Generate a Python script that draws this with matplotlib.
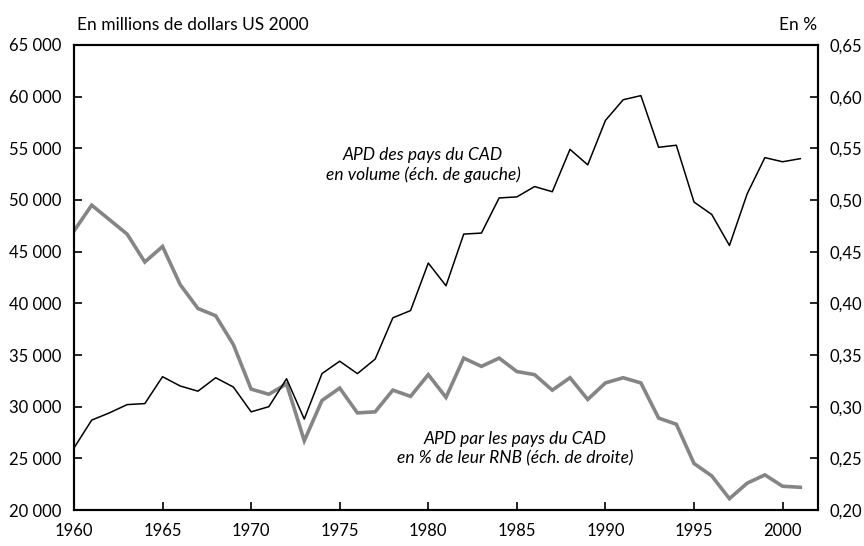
import matplotlib
matplotlib.use("Agg")
import matplotlib.pyplot as plt
from matplotlib.ticker import FuncFormatter

plt.rcParams['font.family'] = ['Lato', 'DejaVu Sans']

years = list(range(1960, 2002))

# APD des pays du CAD en volume, millions USD 2000 (left axis)
volume = [26000, 28700, 29400, 30200, 30300, 32900, 32000, 31500, 32800, 31900,
          29500, 30000, 32700, 28800, 33200, 34400, 33200, 34600, 38600, 39300,
          43900, 41700, 46700, 46800, 50200, 50300, 51300, 50800, 54900, 53400,
          57700, 59700, 60100, 55100, 55300, 49800, 48600, 45600, 50600, 54100,
          53700, 54000]

# APD en % du RNB (right axis)
pct_rnb = [0.470, 0.495, 0.481, 0.467, 0.440, 0.455, 0.418, 0.395, 0.388, 0.360,
           0.317, 0.312, 0.322, 0.267, 0.306, 0.318, 0.294, 0.295, 0.316, 0.310,
           0.331, 0.309, 0.347, 0.339, 0.347, 0.334, 0.331, 0.316, 0.328, 0.307,
           0.323, 0.328, 0.323, 0.289, 0.283, 0.245, 0.233, 0.211, 0.226, 0.234,
           0.223, 0.222]

left_ticks = list(range(20000, 65001, 5000))
right_ticks = [0.20, 0.25, 0.30, 0.35, 0.40, 0.45, 0.50, 0.55, 0.60, 0.65]
x_ticks = list(range(1960, 2001, 5))

fig = plt.figure(figsize=(8.64, 5.46), dpi=100)
ax1 = fig.add_axes([0.0856, 0.0659, 0.8612, 0.8517])
ax2 = ax1.twinx()

ax2.plot(years, pct_rnb, color='#858585', lw=2.6, solid_joinstyle='miter', zorder=2)
ax1.plot(years, volume, color='black', lw=1.1, zorder=3)
ax1.set_zorder(ax2.get_zorder() + 1)
ax1.patch.set_visible(False)

ax1.set_xlim(1960, 2002)
ax1.set_ylim(20000, 65000)
ax2.set_ylim(0.20, 0.65)
ax1.set_xticks(x_ticks)
ax1.set_yticks(left_ticks)
ax2.set_yticks(right_ticks)

ax1.yaxis.set_major_formatter(FuncFormatter(lambda v, p: f"{int(v):,}".replace(",", " ")))
ax2.yaxis.set_major_formatter(FuncFormatter(lambda v, p: f"{v:.2f}".replace(".", ",")))

for ax in (ax1, ax2):
    for s in ax.spines.values():
        s.set_linewidth(1.5)
ax1.tick_params(axis='both', direction='in', length=6, width=1.2, labelsize=12)
ax1.tick_params(axis='y', pad=9)
ax1.tick_params(axis='x', pad=9)
ax2.tick_params(axis='y', direction='in', length=6, width=1.2, labelsize=12, pad=8)

fig.text(0.089, 0.955, "En millions de dollars US 2000", fontsize=12.5, ha='left', va='center')
fig.text(0.946, 0.955, "En %", fontsize=12.5, ha='right', va='center')

ax1.text(1979.7, 53400, "APD des pays du CAD\nen volume (éch. de gauche)",
         style='italic', fontsize=12.5, ha='center', va='center', linespacing=1.25)
ax1.text(1984.9, 25900, "APD par les pays du CAD\nen % de leur RNB (éch. de droite)",
         style='italic', fontsize=12.5, ha='center', va='center', linespacing=1.25)

fig.savefig("out.png", dpi=100)
